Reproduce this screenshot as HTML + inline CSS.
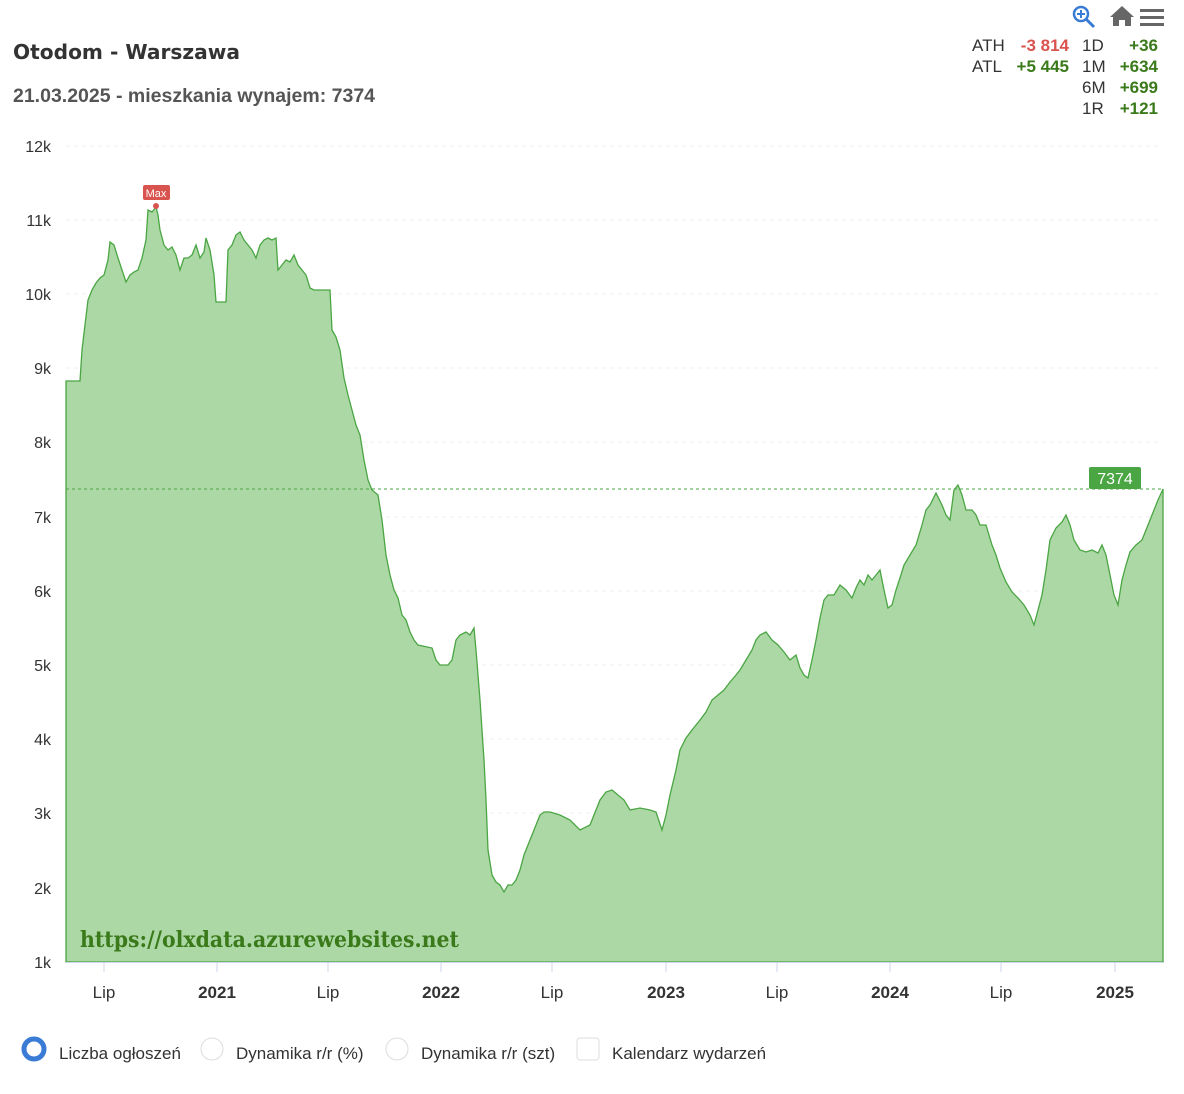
<!DOCTYPE html>
<html><head><meta charset="utf-8"><style>
body{margin:0;background:#fff;width:1184px;height:1089px;overflow:hidden;font-family:"Liberation Sans",sans-serif}
</style></head><body>
<svg width="1184" height="1089" xmlns="http://www.w3.org/2000/svg" font-family="Liberation Sans, sans-serif">
<text x="13" y="59" font-size="20" font-weight="bold" fill="#333" font-family="DejaVu Sans, sans-serif" textLength="227" lengthAdjust="spacingAndGlyphs">Otodom - Warszawa</text>
<text x="13" y="102" font-size="19" font-weight="bold" fill="#555" textLength="362" lengthAdjust="spacingAndGlyphs">21.03.2025 - mieszkania wynajem: 7374</text>
<!-- icons -->
<circle cx="1081" cy="14" r="7" fill="none" stroke="#3a7bd5" stroke-width="2.5"/>
<line x1="1086" y1="19" x2="1094" y2="27" stroke="#3a7bd5" stroke-width="3"/>
<path d="M1077 14h8M1081 10v8" stroke="#3a7bd5" stroke-width="2"/>
<path d="M1110 17l12-11 12 11h-3v9h-6v-6h-6v6h-6v-9z" fill="#666"/>
<rect x="1140" y="9" width="24" height="3" fill="#666"/><rect x="1140" y="16" width="24" height="3" fill="#666"/><rect x="1140" y="23" width="24" height="3" fill="#666"/>
<g font-size="17">
<text x="972" y="51" fill="#333">ATH</text><text x="1069" y="51" fill="#d9534f" text-anchor="end" font-weight="bold">-3 814</text>
<text x="972" y="72" fill="#333">ATL</text><text x="1069" y="72" fill="#3a7a1a" text-anchor="end" font-weight="bold">+5 445</text>
<text x="1082" y="51" fill="#333">1D</text><text x="1158" y="51" fill="#3a7a1a" text-anchor="end" font-weight="bold">+36</text>
<text x="1082" y="72" fill="#333">1M</text><text x="1158" y="72" fill="#3a7a1a" text-anchor="end" font-weight="bold">+634</text>
<text x="1082" y="93" fill="#333">6M</text><text x="1158" y="93" fill="#3a7a1a" text-anchor="end" font-weight="bold">+699</text>
<text x="1082" y="114" fill="#333">1R</text><text x="1158" y="114" fill="#3a7a1a" text-anchor="end" font-weight="bold">+121</text>
</g>
<!-- grid -->
<g stroke="#efefef" stroke-dasharray="4,4">
<line x1="66" x2="1163" y1="146" y2="146"/><line x1="66" x2="1163" y1="220" y2="220"/><line x1="66" x2="1163" y1="294" y2="294"/><line x1="66" x2="1163" y1="368" y2="368"/><line x1="66" x2="1163" y1="442" y2="442"/><line x1="66" x2="1163" y1="517" y2="517"/><line x1="66" x2="1163" y1="591" y2="591"/><line x1="66" x2="1163" y1="665" y2="665"/><line x1="66" x2="1163" y1="739" y2="739"/><line x1="66" x2="1163" y1="813" y2="813"/><line x1="66" x2="1163" y1="888" y2="888"/>
</g>
<g font-size="16" fill="#333" text-anchor="end">
<text x="51" y="152">12k</text><text x="51" y="226">11k</text><text x="51" y="300">10k</text><text x="51" y="374">9k</text><text x="51" y="448">8k</text><text x="51" y="523">7k</text><text x="51" y="597">6k</text><text x="51" y="671">5k</text><text x="51" y="745">4k</text><text x="51" y="819">3k</text><text x="51" y="894">2k</text><text x="51" y="968">1k</text>
</g>
<polygon fill="#acd8a6" stroke="#4aa543" stroke-width="1.3" points="66,962 66,381 80,381 82,350 85,325 88,300 92,290 96,283 100,278 104,275 108,260 110,242 114,245 118,258 122,270 126,282 130,275 134,272 138,270 142,258 146,240 148,210 152,212 156,207 158,215 160,230 164,245 168,250 172,247 176,255 180,270 184,258 188,258 192,255 196,245 200,258 204,252 206,238 210,250 214,275 216,302 226,302 228,250 232,245 236,235 240,232 244,240 248,245 252,250 256,258 260,245 264,240 268,238 272,240 276,238 278,270 282,265 286,260 290,262 294,255 298,265 302,270 306,275 310,288 314,290 330,290 332,330 336,337 340,350 344,378 348,395 352,410 356,425 360,435 364,460 368,480 372,490 378,495 382,520 386,555 390,575 394,590 398,598 402,615 406,620 410,632 414,640 418,645 432,648 436,660 440,665 448,665 452,660 456,640 460,635 466,632 470,635 474,628 476,650 480,700 484,760 486,800 488,850 492,875 496,882 500,885 504,892 508,885 512,885 516,880 520,870 524,855 528,845 532,835 536,825 540,815 544,812 550,812 560,815 570,820 580,830 590,825 596,810 600,800 606,792 612,790 618,795 624,800 630,810 640,808 650,810 656,812 662,830 666,815 670,795 676,770 680,750 686,738 692,730 700,720 706,712 712,700 718,695 724,690 730,682 736,675 740,670 746,660 752,650 756,640 760,635 766,632 772,640 778,645 784,652 790,660 796,655 800,668 804,675 808,678 812,660 816,640 820,618 824,600 828,595 834,595 840,585 846,590 852,598 856,588 860,580 864,585 868,575 872,580 876,575 880,570 884,590 888,608 892,605 896,590 900,578 904,565 910,555 916,545 922,525 926,510 930,505 936,493 942,505 946,515 950,520 954,490 958,485 962,495 966,510 972,510 976,515 980,525 986,525 992,545 996,555 1000,568 1006,582 1012,592 1018,598 1024,605 1030,615 1034,625 1038,610 1042,595 1046,570 1050,540 1056,528 1062,522 1066,515 1070,525 1074,540 1080,550 1086,552 1092,550 1098,553 1102,545 1106,555 1110,575 1114,595 1118,605 1122,580 1126,565 1130,552 1136,545 1142,540 1148,525 1154,510 1158,500 1163,489 1163,962"/>
<line x1="66" x2="1163" y1="489" y2="489" stroke="#4aa543" stroke-dasharray="3,3"/>
<rect x="1089" y="467" width="52" height="22" rx="2" fill="#4aa543"/>
<text x="1115" y="484" font-size="16" fill="#fff" text-anchor="middle">7374</text>
<rect x="143" y="185" width="27" height="15" rx="2" fill="#d9534f"/>
<text x="156" y="197" font-size="11" fill="#fff" text-anchor="middle">Max</text>
<circle cx="156" cy="206" r="3" fill="#d9534f"/>
<text x="80" y="947" font-size="22" font-weight="bold" fill="#3a7a1a" font-family="DejaVu Serif, serif" textLength="379" lengthAdjust="spacingAndGlyphs">https://olxdata.azurewebsites.net</text>
<line x1="66" x2="1163" y1="962.5" y2="962.5" stroke="#ccd6eb"/>
<g stroke="#ccd6eb"><line x1="104" x2="104" y1="962" y2="972"/><line x1="217" x2="217" y1="962" y2="972"/><line x1="328" x2="328" y1="962" y2="972"/><line x1="441" x2="441" y1="962" y2="972"/><line x1="552" x2="552" y1="962" y2="972"/><line x1="666" x2="666" y1="962" y2="972"/><line x1="777" x2="777" y1="962" y2="972"/><line x1="890" x2="890" y1="962" y2="972"/><line x1="1001" x2="1001" y1="962" y2="972"/><line x1="1115" x2="1115" y1="962" y2="972"/></g>
<g font-size="17" fill="#333" text-anchor="middle">
<text x="104" y="998">Lip</text><text x="217" y="998" font-weight="bold">2021</text><text x="328" y="998">Lip</text><text x="441" y="998" font-weight="bold">2022</text><text x="552" y="998">Lip</text><text x="666" y="998" font-weight="bold">2023</text><text x="777" y="998">Lip</text><text x="890" y="998" font-weight="bold">2024</text><text x="1001" y="998">Lip</text><text x="1115" y="998" font-weight="bold">2025</text>
</g>
<circle cx="34" cy="1049" r="10" fill="#fff" stroke="#3a7bd5" stroke-width="5"/>
<text x="59" y="1059" font-size="17" fill="#333">Liczba ogłoszeń</text>
<circle cx="212" cy="1049" r="11" fill="#fff" stroke="#ddd"/>
<text x="236" y="1059" font-size="17" fill="#333">Dynamika r/r (%)</text>
<circle cx="397" cy="1049" r="11" fill="#fff" stroke="#ddd"/>
<text x="421" y="1059" font-size="17" fill="#333">Dynamika r/r (szt)</text>
<rect x="577" y="1038" width="22" height="22" rx="3" fill="#fff" stroke="#ddd"/>
<text x="612" y="1059" font-size="17" fill="#333">Kalendarz wydarzeń</text>
</svg>
</body></html>
